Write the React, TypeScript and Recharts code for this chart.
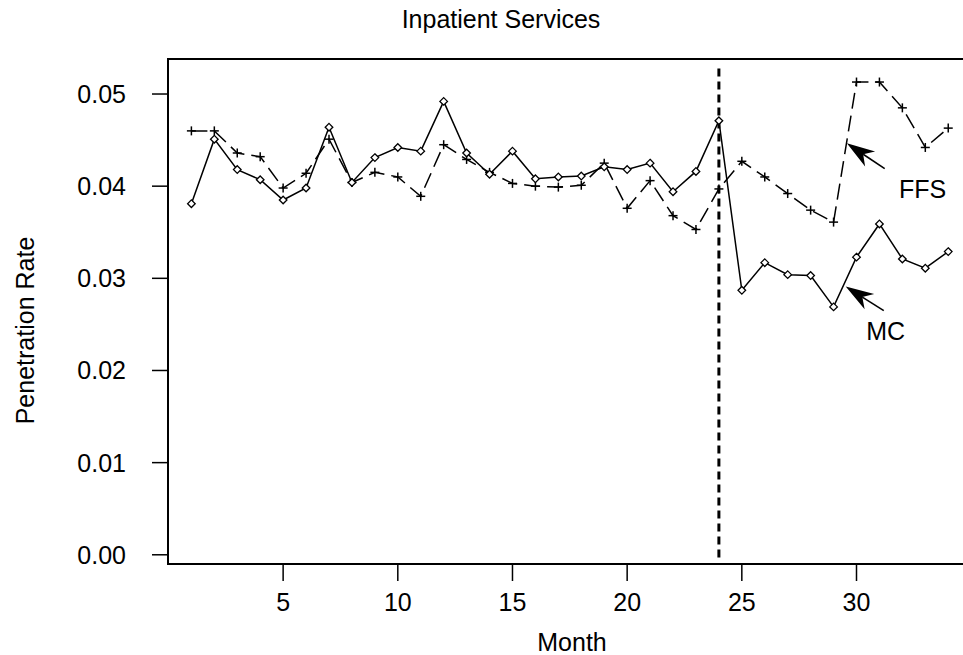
import {
  LineChart, Line, XAxis, YAxis, ReferenceLine, ReferenceArea, ReferenceDot,
} from 'recharts';

const FONT = '"Liberation Sans", Arial, sans-serif';

// month index and the two series
const months = Array.from({ length: 34 }, (_, i) => i + 1);
const mcRate = [
  0.0381, 0.0451, 0.0418, 0.0407, 0.0385, 0.0398, 0.0464, 0.0404, 0.0431, 0.0442,
  0.0438, 0.0492, 0.0436, 0.0413, 0.0438, 0.0408, 0.0410, 0.0411, 0.0421, 0.0418,
  0.0425, 0.0394, 0.0416, 0.0471, 0.0287, 0.0317, 0.0304, 0.0303, 0.0269, 0.0323,
  0.0359, 0.0321, 0.0311, 0.0329,
];
const ffsRate = [
  0.0460, 0.0460, 0.0436, 0.0432, 0.0398, 0.0414, 0.0451, 0.0404, 0.0415, 0.0410,
  0.0389, 0.0445, 0.0429, 0.0415, 0.0403, 0.0400, 0.0399, 0.0401, 0.0425, 0.0376,
  0.0406, 0.0368, 0.0353, 0.0397, 0.0427, 0.0410, 0.0392, 0.0374, 0.0361, 0.0513,
  0.0513, 0.0485, 0.0442, 0.0463,
];
const xTicks = [5, 10, 15, 20, 25, 30];
const yTicks = [0, 0.01, 0.02, 0.03, 0.04, 0.05];

const X_DOMAIN: [number, number] = [-0.02, 34.6];
const Y_DOMAIN: [number, number] = [-0.001, 0.0538];

const data = months.map((m, i) => ({ month: m, mc: mcRate[i], ffs: ffsRate[i] }));

function DiamondDot(props: any) {
  const { cx, cy, index } = props;
  const r = 3.8;
  return (
    <polygon
      key={`mc-${index}`}
      points={`${cx},${cy - r} ${cx + r},${cy} ${cx},${cy + r} ${cx - r},${cy}`}
      fill="#fff"
      stroke="#000"
      strokeWidth={1.3}
    />
  );
}

function PlusDot(props: any) {
  const { cx, cy, index } = props;
  const r = 4.5;
  return (
    <g key={`ffs-${index}`} stroke="#000" strokeWidth={1.5}>
      <line x1={cx - r} y1={cy} x2={cx + r} y2={cy} />
      <line x1={cx} y1={cy - r} x2={cx} y2={cy + r} />
    </g>
  );
}

// line from tail (x1,y1) to tip (x2,y2) with a filled, notched head
function Arrow(props: any) {
  const { x1, y1, x2, y2 } = props;
  const dx = x1 - x2;
  const dy = y1 - y2;
  const len = Math.sqrt(dx * dx + dy * dy);
  const ux = dx / len;
  const uy = dy / len;
  const px = -uy;
  const py = ux;
  const L = 28;
  const W = 9;
  const c1 = [x2 + ux * L + px * W, y2 + uy * L + py * W];
  const c2 = [x2 + ux * L - px * W, y2 + uy * L - py * W];
  const n = [x2 + ux * L * 0.7, y2 + uy * L * 0.7];
  return (
    <g>
      <line x1={x1} y1={y1} x2={n[0]} y2={n[1]} stroke="#000" strokeWidth={1.6} />
      <polygon
        points={`${x2},${y2} ${c1[0]},${c1[1]} ${n[0]},${n[1]} ${c2[0]},${c2[1]}`}
        fill="#000"
      />
    </g>
  );
}

export default function App() {
  const tickStyle = { fill: '#000', fontSize: 25, fontFamily: FONT };

  return (
    <div style={{ position: 'absolute', left: 0, top: 0, width: 963, height: 655, background: '#fff', overflow: 'hidden' }}>
      <div
        style={{
          position: 'absolute', left: 0, top: 7, width: 1002, textAlign: 'center',
          fontFamily: FONT, fontSize: 25, lineHeight: '25px', color: '#000',
        }}
      >
        Inpatient Services
      </div>
      <LineChart
        width={963}
        height={655}
        data={data}
        margin={{ top: 59, right: 1, bottom: 0, left: 0 }}
        style={{ position: 'absolute', left: 0, top: 0 }}
      >
        <XAxis
          dataKey="month"
          type="number"
          domain={X_DOMAIN}
          allowDataOverflow
          ticks={xTicks}
          height={91}
          axisLine={false}
          tickSize={17}
          tickMargin={12}
          tickLine={{ stroke: '#000', strokeWidth: 1.5 }}
          tick={tickStyle}
          label={{
            value: 'Month',
            content: ({ viewBox }: any) => (
              <text
                x={viewBox.x + viewBox.width / 2 + 7}
                y={viewBox.y + viewBox.height - 4}
                textAnchor="middle"
                fill="#000"
                fontSize={25}
                fontFamily={FONT}
              >
                Month
              </text>
            ),
          }}
        />
        <YAxis
          type="number"
          domain={Y_DOMAIN}
          allowDataOverflow
          ticks={yTicks}
          width={168}
          axisLine={false}
          tickSize={16}
          tickMargin={26}
          tickLine={{ stroke: '#000', strokeWidth: 1.5 }}
          tick={tickStyle}
          tickFormatter={(v: number) => v.toFixed(2)}
          label={{
            value: 'Penetration Rate',
            content: ({ viewBox }: any) => {
              const cy = viewBox.y + viewBox.height / 2 + 19;
              return (
                <text
                  x={25}
                  y={cy}
                  transform={`rotate(-90, 25, ${cy})`}
                  textAnchor="middle"
                  dominantBaseline="central"
                  fill="#000"
                  fontSize={25}
                  fontFamily={FONT}
                >
                  Penetration Rate
                </text>
              );
            },
          }}
        />
        {/* plot frame; its right side runs past the picture edge */}
        <ReferenceArea
          x1={X_DOMAIN[0]}
          x2={36}
          y1={Y_DOMAIN[0]}
          y2={Y_DOMAIN[1]}
          fill="none"
          fillOpacity={0}
          stroke="#000"
          strokeWidth={2}
          ifOverflow="visible"
        />
        <ReferenceLine
          segment={[{ x: 24, y: -0.0003 }, { x: 24, y: 0.0531 }]}
          stroke="#000"
          strokeWidth={3}
          strokeDasharray="8 5"
        />
        <Line
          dataKey="ffs"
          stroke="#000"
          strokeWidth={1.5}
          strokeDasharray="16 7"
          dot={PlusDot}
          activeDot={false}
          isAnimationActive={false}
        />
        <Line
          dataKey="mc"
          stroke="#000"
          strokeWidth={1.5}
          dot={DiamondDot}
          activeDot={false}
          isAnimationActive={false}
        />
        <ReferenceLine
          segment={[{ x: 31.23, y: 0.0419 }, { x: 29.58, y: 0.04465 }]}
          shape={Arrow}
        />
        <ReferenceLine
          segment={[{ x: 31.19, y: 0.0265 }, { x: 29.53, y: 0.0291 }]}
          shape={Arrow}
        />
        <ReferenceDot
          x={32.88}
          y={0.0397}
          r={0}
          fill="none"
          stroke="none"
          label={{ value: 'FFS', position: 'center', fill: '#000', fontSize: 25, fontFamily: FONT }}
        />
        <ReferenceDot
          x={31.27}
          y={0.0243}
          r={0}
          fill="none"
          stroke="none"
          label={{ value: 'MC', position: 'center', fill: '#000', fontSize: 25, fontFamily: FONT }}
        />
      </LineChart>
    </div>
  );
}
